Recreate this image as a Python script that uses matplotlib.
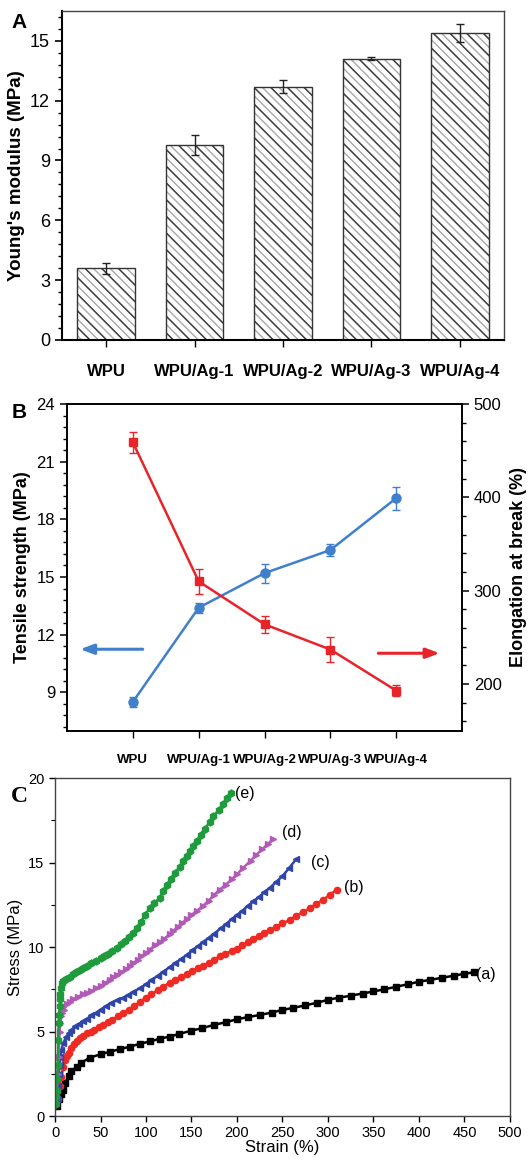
import matplotlib
matplotlib.use("Agg")
import matplotlib.pyplot as plt
from matplotlib.ticker import AutoMinorLocator, MultipleLocator

plt.rcParams["font.family"] = ["Liberation Sans", "DejaVu Sans"]

# ---- panel A: Young's modulus
samples = ["WPU", "WPU/Ag-1", "WPU/Ag-2", "WPU/Ag-3", "WPU/Ag-4"]
modulus = [3.6, 9.8, 12.7, 14.1, 15.4]
modulus_err = [0.28, 0.5, 0.32, 0.07, 0.46]

# ---- panel B: tensile strength (left) and elongation at break (right)
tensile = [8.5, 13.4, 15.2, 16.4, 19.1]
tensile_err = [0.25, 0.25, 0.5, 0.3, 0.6]
elongation = [459, 310, 264, 237, 193]
elongation_err = [11, 13, 9, 13, 6]

# ---- panel C: stress-strain curves
strain_a = [2, 4, 7, 9, 11, 15, 18, 24, 29, 38, 50, 60, 71, 82, 93, 104, 115, 126, 136,
            150, 162, 175, 188, 200, 212, 225, 238, 250, 262, 275, 288, 300, 312, 325,
            338, 350, 362, 375, 388, 400, 412, 425, 438, 450, 460]
stress_a = [0.6, 1.0, 1.3, 1.55, 1.95, 2.35, 2.65, 2.9, 3.15, 3.45, 3.65, 3.8, 3.95, 4.1,
            4.27, 4.41, 4.57, 4.7, 4.85, 5.05, 5.2, 5.4, 5.55, 5.73, 5.85, 5.98, 6.12,
            6.28, 6.4, 6.55, 6.7, 6.88, 7.0, 7.12, 7.25, 7.37, 7.5, 7.65, 7.8, 7.95,
            8.05, 8.18, 8.3, 8.42, 8.5]
strain_b = [3, 5, 7, 9, 11, 13, 15, 18, 21, 24, 27, 31, 35, 39, 43, 48, 53, 58, 63, 69,
            75, 81, 87, 93, 100, 106, 113, 119, 126, 132, 139, 145, 151, 157, 163, 169,
            175, 181, 187, 194, 200, 206, 212, 218, 224, 230, 236, 243, 250, 258, 265,
            272, 280, 287, 295, 302, 310]
stress_b = [1.0, 1.8, 2.3, 2.9, 3.3, 3.55, 3.75, 4.0, 4.25, 4.45, 4.6, 4.75, 4.9, 5.0,
            5.1, 5.25, 5.4, 5.55, 5.7, 5.9, 6.1, 6.3, 6.5, 6.75, 7.0, 7.2, 7.45, 7.65,
            7.9, 8.05, 8.25, 8.4, 8.6, 8.75, 8.9, 9.05, 9.25, 9.45, 9.6, 9.75, 9.9, 10.1,
            10.3, 10.5, 10.65, 10.85, 11.0, 11.2, 11.4, 11.6, 11.85, 12.05, 12.3, 12.55,
            12.8, 13.1, 13.4]
strain_c = [2, 3, 4, 5, 6, 7, 9, 12, 15, 18, 22, 26, 31, 35, 40, 45, 50, 56, 62, 68, 75,
            80, 86, 93, 100, 106, 113, 119, 126, 132, 139, 145, 151, 157, 163, 169, 175,
            182, 188, 194, 200, 206, 212, 218, 224, 230, 236, 243, 250, 257, 265]
stress_c = [1.0, 1.8, 2.5, 3.0, 3.5, 3.9, 4.3, 4.65, 4.9, 5.1, 5.3, 5.45, 5.6, 5.75, 5.95,
            6.1, 6.3, 6.5, 6.7, 6.85, 7.0, 7.15, 7.35, 7.55, 7.8, 8.05, 8.3, 8.55, 8.8,
            9.05, 9.3, 9.55, 9.8, 10.05, 10.3, 10.55, 10.8, 11.1, 11.35, 11.65, 11.9,
            12.15, 12.45, 12.7, 12.95, 13.25, 13.5, 13.85, 14.2, 14.65, 15.2]
strain_d = [2, 3, 4, 5, 6, 7, 8, 10, 13, 16, 20, 25, 31, 35, 40, 45, 50, 55, 60, 64, 68,
            73, 78, 82, 86, 91, 95, 100, 104, 110, 115, 120, 126, 130, 135, 140, 145,
            150, 156, 163, 169, 175, 181, 188, 194, 200, 207, 215, 221, 228, 234, 240]
stress_d = [1.5, 2.5, 3.5, 5.0, 5.5, 5.9, 6.1, 6.3, 6.6, 6.75, 6.9, 7.05, 7.2, 7.3, 7.4,
            7.55, 7.7, 7.88, 8.05, 8.2, 8.35, 8.5, 8.7, 8.88, 9.05, 9.25, 9.45, 9.65,
            9.85, 10.1, 10.3, 10.5, 10.75, 10.95, 11.2, 11.45, 11.65, 11.9, 12.15, 12.45,
            12.75, 13.1, 13.4, 13.7, 14.0, 14.3, 14.7, 15.1, 15.45, 15.8, 16.1, 16.4]
strain_e = [1, 1.5, 2, 2.5, 3, 3.5, 4, 4.5, 5, 5.5, 6, 7, 8, 9, 12, 16, 20, 23, 27, 31,
            35, 40, 45, 50, 54, 58, 63, 68, 72, 77, 81, 86, 90, 95, 99, 104, 109, 115,
            119, 123, 128, 132, 137, 141, 145, 148, 152, 156, 160, 165, 170, 174, 180,
            185, 189, 193]
stress_e = [0.7, 1.1, 1.5, 2.2, 3.0, 4.5, 5.5, 6.0, 6.5, 6.9, 7.2, 7.6, 7.85, 8.0, 8.1,
            8.25, 8.38, 8.5, 8.62, 8.75, 8.9, 9.05, 9.2, 9.35, 9.48, 9.6, 9.78, 9.95,
            10.15, 10.35, 10.6, 10.85, 11.15, 11.5, 11.9, 12.3, 12.6, 12.9, 13.3, 13.7,
            14.05, 14.4, 14.75, 15.1, 15.4, 15.7, 16.0, 16.3, 16.65, 17.0, 17.4, 17.75,
            18.1, 18.45, 18.8, 19.1]
curve_labels = ["(a)", "(b)", "(c)", "(d)", "(e)"]
label_x = [463, 318, 281, 250, 198]
label_y = [8.4, 13.5, 15.0, 16.8, 19.1]

fig = plt.figure(figsize=(5.29, 11.63), dpi=100)

# ================= A =================
ax1 = fig.add_axes([0.117, 0.7077, 0.836, 0.2829])
pos = list(range(len(samples)))
ax1.bar(pos, modulus, 0.65, color="white", edgecolor="#a8a8a8", hatch="\\\\\\\\", linewidth=0)
ax1.bar(pos, modulus, 0.65, fill=False, edgecolor="#3c3c3c", hatch="\\\\", linewidth=0)
ax1.bar(pos, modulus, 0.65, fill=False, edgecolor="#333333", linewidth=1.0)
ax1.errorbar(pos, modulus, yerr=modulus_err, fmt="none", ecolor="#222222",
             elinewidth=1.0, capsize=3, capthick=1.0)
ax1.set_xlim(-0.5, 4.5)
ax1.set_ylim(0, 16.5)
ax1.set_xticks(pos)
ax1.set_xticklabels(samples, fontsize=12, fontweight="bold")
ax1.set_yticks([0, 3, 6, 9, 12, 15])
ax1.yaxis.set_minor_locator(AutoMinorLocator(5))
ax1.tick_params(axis="y", which="major", labelsize=13, direction="out", length=5, width=1.2)
ax1.tick_params(axis="y", which="minor", direction="out", length=3, width=1.0)
ax1.tick_params(axis="x", direction="out", length=5, width=1.0, pad=12)
ax1.set_ylabel("Young's modulus (MPa)", fontsize=13.5, fontweight="bold", labelpad=4)
for side in ["left", "bottom"]:
    ax1.spines[side].set_linewidth(1.5)
for side in ["top", "right"]:
    ax1.spines[side].set_linewidth(1.0)
    ax1.spines[side].set_color("#444444")
fig.text(0.022, 0.981, "A", fontsize=15, fontweight="bold", va="center")

# ================= B =================
ax2 = fig.add_axes([0.1267, 0.3717, 0.7466, 0.2809])
ax3 = ax2.twinx()
blue = "#3f7fcc"
red = "#e8232a"
ax2.errorbar(pos, tensile, yerr=tensile_err, color=blue, marker="o", markersize=6.5,
             linewidth=1.8, elinewidth=1.0, capsize=3, capthick=1.0)
ax3.errorbar(pos, elongation, yerr=elongation_err, color=red, marker="s", markersize=6,
             linewidth=1.8, elinewidth=1.0, capsize=3, capthick=1.0)
ax2.annotate("", xy=(-0.8, 11.24), xytext=(0.15, 11.24),
             arrowprops=dict(arrowstyle="-|>,head_length=0.8,head_width=0.3",
                             color=blue, lw=2.2, shrinkA=0, shrinkB=0))
ax3.annotate("", xy=(4.66, 233), xytext=(3.73, 233),
             arrowprops=dict(arrowstyle="-|>,head_length=0.8,head_width=0.3",
                             color=red, lw=2.2, shrinkA=0, shrinkB=0))
ax2.set_xlim(-1, 5)
ax2.set_ylim(7, 24)
ax3.set_ylim(150, 500)
ax2.set_xticks(pos)
ax2.set_xticklabels(samples, fontsize=9.5, fontweight="bold")
ax2.set_yticks([9, 12, 15, 18, 21, 24])
ax3.set_yticks([200, 300, 400, 500])
ax2.yaxis.set_minor_locator(AutoMinorLocator(5))
ax3.yaxis.set_minor_locator(AutoMinorLocator(5))
ax2.tick_params(axis="y", which="major", labelsize=12, direction="out", length=5, width=1.1)
ax2.tick_params(axis="y", which="minor", direction="out", length=3, width=1.0)
ax3.tick_params(axis="y", which="major", labelsize=12, direction="out", length=5, width=1.1)
ax3.tick_params(axis="y", which="minor", direction="out", length=3, width=1.0)
ax2.tick_params(axis="x", direction="out", length=5, width=1.0, pad=12)
ax2.set_ylabel("Tensile strength (MPa)", fontsize=13, fontweight="bold", labelpad=4)
ax3.set_ylabel("Elongation at break (%)", fontsize=13, fontweight="bold", labelpad=6)
for a in (ax2, ax3):
    for side in a.spines:
        a.spines[side].set_linewidth(1.2)
fig.text(0.022, 0.645, "B", fontsize=15, fontweight="bold", va="center")

# ================= C =================
ax4 = fig.add_axes([0.104, 0.0404, 0.860, 0.2906])
curves = [
    (strain_a, stress_a, "black", "s", 4.0),
    (strain_b, stress_b, "#ee2a24", "o", 4.5),
    (strain_c, stress_c, "#2f46a8", "<", 5.0),
    (strain_d, stress_d, "#b25ab8", ">", 5.0),
    (strain_e, stress_e, "#1f9a3c", "h", 5.0),
]
for xs, ys, col, mk, ms in curves:
    ax4.plot(xs, ys, color=col, marker=mk, markersize=ms, linewidth=1.8)
for lab, lx, ly in zip(curve_labels, label_x, label_y):
    ax4.text(lx, ly, lab, fontsize=11.5, va="center", ha="left")
ax4.set_xlim(0, 500)
ax4.set_ylim(0, 20)
ax4.xaxis.set_major_locator(MultipleLocator(50))
ax4.yaxis.set_major_locator(MultipleLocator(5))
ax4.yaxis.set_minor_locator(MultipleLocator(2.5))
ax4.tick_params(axis="both", which="major", labelsize=10.5, direction="out", length=4, width=1.0)
ax4.tick_params(axis="y", which="minor", direction="out", length=3, width=0.8)
ax4.set_xlabel("Strain (%)", fontsize=12, labelpad=0)
ax4.set_ylabel("Stress (MPa)", fontsize=12, labelpad=4)
for side in ax4.spines:
    ax4.spines[side].set_linewidth(1.0)
    ax4.spines[side].set_color("#444444")
fig.text(0.02, 0.315, "C", fontsize=17, fontweight="bold", va="center",
         family=["Liberation Serif", "DejaVu Serif"])

fig.savefig("out.png", dpi=100)
